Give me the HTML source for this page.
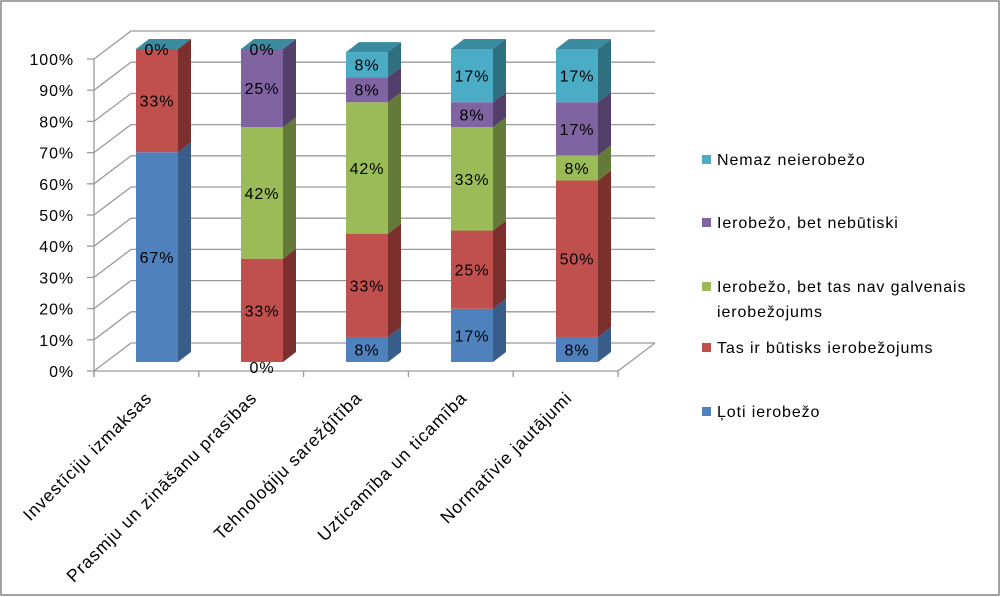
<!DOCTYPE html>
<html><head><meta charset="utf-8"><style>
html,body{margin:0;padding:0;background:#fff}
svg{display:block}
text{font-family:"Liberation Sans","DejaVu Sans",sans-serif;font-size:16px;letter-spacing:0.9px;fill:#000}
text.cat{font-size:17.5px;letter-spacing:0.9px}
</style></head><body>
<svg width="1001" height="597" viewBox="0 0 1001 597" xmlns="http://www.w3.org/2000/svg">
<rect x="1" y="1" width="998" height="594" fill="#fff" stroke="#868686" stroke-width="1.5"/>
<g id="grid" stroke="#9a9a9a" stroke-width="1.3" fill="none"></g>
<g id="bars"></g>
<g id="txt"></g>
<g>
<rect x="702" y="155" width="9" height="9" fill="#4BACC6"/><text x="717" y="165">Nemaz neierobežo</text>
<rect x="702" y="218" width="9" height="9" fill="#8064A2"/><text x="717" y="228">Ierobežo, bet nebūtiski</text>
<rect x="702" y="282" width="9" height="9" fill="#9BBB59"/><text x="717" y="292">Ierobežo, bet tas nav galvenais</text><text x="717" y="317">ierobežojums</text>
<rect x="702" y="343" width="9" height="9" fill="#C0504D"/><text x="717" y="353">Tas ir būtisks ierobežojums</text>
<rect x="702" y="407" width="9" height="9" fill="#4F81BD"/><text x="717" y="417">Ļoti ierobežo</text>
</g>
<script>
(function(){
var NS="http://www.w3.org/2000/svg";
function el(p,t,a,txt){var e=document.createElementNS(NS,t);for(var k in a)e.setAttribute(k,a[k]);if(txt!=null)e.textContent=txt;p.appendChild(e);return e;}
var g=document.getElementById('grid'),b=document.getElementById('bars'),tx=document.getElementById('txt');
var step=31.2,y0=371;
for(var i=0;i<=10;i++){var yf=y0-i*step;
 el(g,'line',{x1:87,y1:yf,x2:94,y2:yf});
 el(g,'line',{x1:94,y1:yf,x2:131,y2:yf-28});
 el(g,'line',{x1:131,y1:yf-28,x2:655,y2:yf-28});
 el(tx,'text',{x:74,y:yf+6,'text-anchor':'end'},(i*10)+'%');
}
el(g,'line',{x1:94,y1:59,x2:94,y2:377});
el(g,'line',{x1:94,y1:371,x2:618,y2:371});
el(g,'line',{x1:618,y1:371,x2:655,y2:343});
for(var i=0;i<6;i++){var x=94+i*104.8;el(g,'line',{x1:x,y1:371,x2:x,y2:377});}
var cols=[["#4F81BD","#385D8A"],["#C0504D","#7B302E"],["#9BBB59","#647A38"],["#8064A2","#523F6A"],["#4BACC6","#2F6F80"]];
var data=[[67,33,0,0,0],[0,33,42,25,0],[8,33,42,8,8],[17,25,33,8,17],[8,50,8,17,17]];
var labs=[["67%","33%",null,null,"0%"],["0%","33%","42%","25%","0%"],["8%","33%","42%","8%","8%"],["17%","25%","33%","8%","17%"],["8%","50%","8%","17%","17%"]];
var bot=362,u=3.13,w=42,dx=13,dy=-10;
for(var c=0;c<5;c++){var x0=136+c*105,y=bot,tp=bot;
 for(var s=0;s<5;s++){var v=data[c][s];var h=v*u;var yt=y-h;
  if(v>0){
   el(b,'rect',{x:x0,y:yt,width:w,height:h,fill:cols[s][0]});
   el(b,'polygon',{points:[x0+w,y,x0+w+dx,y+dy,x0+w+dx,yt+dy,x0+w,yt].join(' '),fill:cols[s][1]});
   tp=yt;}
  y=yt;}
 el(b,'polygon',{points:[x0,tp,x0+w,tp,x0+w+dx,tp+dy,x0+dx,tp+dy].join(' '),fill:"#3A8BA0"});
 y=bot;
 for(var s=0;s<5;s++){var v=data[c][s],h=v*u,l=labs[c][s];
  if(l){var cy;
   if(v>0)cy=y-h/2;else if(s==0)cy=bot+5;else cy=tp;
   el(tx,'text',{x:x0+w/2,y:cy+6,'text-anchor':'middle'},l);}
  y-=h;}
}
var cats=["Investīciju izmaksas","Prasmju un zināšanu prasības","Tehnoloģiju sarežģītība","Uzticamība un ticamība","Normatīvie jautājumi"];
for(var c=0;c<5;c++){var ex=153+c*105,ey=399;
 el(tx,'text',{'class':'cat',x:ex,y:ey,'text-anchor':'end',transform:'rotate(-45 '+ex+' '+ey+')'},cats[c]);}
})();
</script>
</svg>
</body></html>
